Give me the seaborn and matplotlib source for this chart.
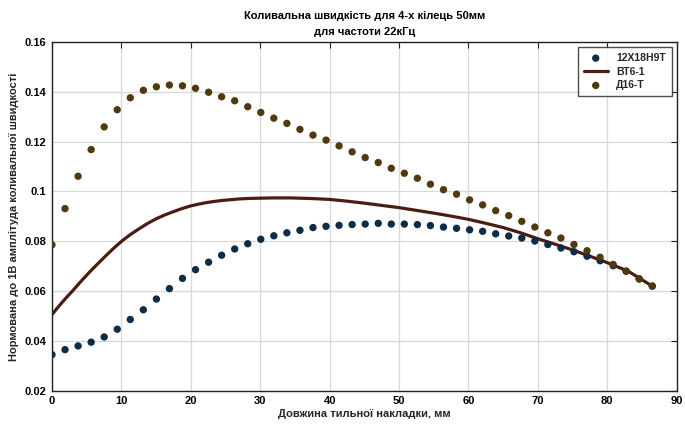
import numpy as np
import pandas as pd
import matplotlib
matplotlib.use("Agg")
import matplotlib.pyplot as plt
import seaborn as sns

# x positions of the sampled points (mm)
x_pts = [0.0, 1.88, 3.76, 5.64, 7.52, 9.40, 11.28, 13.16, 15.04, 16.92,
         18.80, 20.68, 22.56, 24.44, 26.32, 28.20, 30.08, 31.96, 33.84, 35.72,
         37.60, 39.48, 41.36, 43.24, 45.12, 47.00, 48.88, 50.76, 52.64, 54.52,
         56.40, 58.28, 60.16, 62.04, 63.92, 65.80, 67.68, 69.56, 71.44, 73.32,
         75.20, 77.08, 78.96, 80.84, 82.72, 84.60, 86.48]

# 12Х18Н9Т (dots)
steel = [0.0345, 0.0365, 0.0380, 0.0395, 0.0416, 0.0447, 0.0486, 0.0525, 0.0568, 0.0610,
         0.0651, 0.0686, 0.0716, 0.0744, 0.0769, 0.0790, 0.0808, 0.0822, 0.0834, 0.0844,
         0.0855, 0.0860, 0.0864, 0.0867, 0.0869, 0.0872, 0.0869, 0.0869, 0.0867, 0.0863,
         0.0857, 0.0852, 0.0846, 0.0840, 0.0830, 0.0821, 0.0813, 0.0801, 0.0787, 0.0773,
         0.0758, 0.0740, 0.0722, 0.0702, 0.0680, 0.0649, 0.0620]

# Д16-Т (dots)
dural = [0.0786, 0.0931, 0.1061, 0.1168, 0.1259, 0.1328, 0.1376, 0.1406, 0.1420, 0.1427,
         0.1424, 0.1414, 0.1398, 0.1380, 0.1364, 0.1340, 0.1317, 0.1294, 0.1273, 0.1249,
         0.1226, 0.1206, 0.1183, 0.1159, 0.1136, 0.1116, 0.1093, 0.1073, 0.1053, 0.1029,
         0.1007, 0.0989, 0.0966, 0.0946, 0.0923, 0.0903, 0.0880, 0.0857, 0.0834, 0.0813,
         0.0787, 0.0762, 0.0736, 0.0707, 0.0680, 0.0649, 0.0620]

# ВТ6-1 (line)
x_line = [0.0, 1.0, 2.0, 3.0, 4.2, 5.4, 6.6, 7.8, 9.0, 10.2, 11.4, 12.6, 13.8, 15.0, 16.2,
          17.4, 18.7, 20.0, 21.1, 22.2, 23.4, 24.6, 25.8, 27.0, 28.5, 30.0, 32.0, 34.3,
          37.0, 40.0, 42.5, 45.0, 47.5, 50.0, 52.5, 55.0, 57.5, 60.0, 62.5, 65.0, 67.5,
          70.0, 72.5, 75.0, 77.5, 80.0, 83.0, 86.48]
titanium = [0.0506, 0.0540, 0.0572, 0.0602, 0.0640, 0.0676, 0.0710, 0.0743, 0.0775, 0.0804,
            0.0829, 0.0851, 0.0872, 0.0890, 0.0905, 0.0918, 0.0931, 0.0942, 0.0949, 0.0955,
            0.0960, 0.0964, 0.0967, 0.0970, 0.0972, 0.0973, 0.0974, 0.0974, 0.0972, 0.0968,
            0.0961, 0.0953, 0.0944, 0.0935, 0.0924, 0.0913, 0.0901, 0.0888, 0.0872, 0.0855,
            0.0834, 0.0810, 0.0788, 0.0765, 0.0740, 0.0714, 0.0680, 0.0620]

labels = ["12Х18Н9Т", "ВТ6-1", "Д16-Т"]
x_ticks = [0, 10, 20, 30, 40, 50, 60, 70, 80, 90]
y_ticks = [0.02, 0.04, 0.06, 0.08, 0.1, 0.12, 0.14, 0.16]
y_ticklabels = ["0.02", "0.04", "0.06", "0.08", "0.1", "0.12", "0.14", "0.16"]

sns.set_theme(style="white")
plt.rcParams['font.family'] = ['Liberation Sans', 'DejaVu Sans']
plt.rcParams['font.weight'] = 'bold'

fig = plt.figure(figsize=(6.85, 4.28), dpi=100)
ax = fig.add_axes([0.0759, 0.087, 0.912, 0.815])

df_dots = pd.DataFrame({"x": x_pts, "steel": steel, "dural": dural})
df_line = pd.DataFrame({"x": x_line, "ti": titanium})

c_steel = "#0c2c48"
c_ti = "#4b1d12"
c_dural = "#4f3a0e"

sns.scatterplot(data=df_dots, x="x", y="steel", ax=ax, color=c_steel, s=28,
                edgecolor="none", label=labels[0], zorder=3)
sns.lineplot(data=df_line, x="x", y="ti", ax=ax, color=c_ti, lw=2.3,
             label=labels[1], zorder=2)
sns.scatterplot(data=df_dots, x="x", y="dural", ax=ax, color=c_dural, s=28,
                edgecolor="none", label=labels[2], zorder=3)

ax.set_xlim(0, 90)
ax.set_ylim(0.02, 0.16)
ax.set_xticks(x_ticks)
ax.set_yticks(y_ticks)
ax.set_yticklabels(y_ticklabels)
ax.grid(True, color="#d8d8d8", lw=0.9)
ax.set_axisbelow(True)
for s in ax.spines.values():
    s.set_color("#222222")
    s.set_linewidth(1.0)
ax.tick_params(direction="in", length=4, width=0.8, colors="#222222",
               labelsize=8, top=True, right=True, pad=4)
for lab in ax.get_xticklabels() + ax.get_yticklabels():
    lab.set_fontweight("bold")
    lab.set_color("black")

ax.set_xlabel("Довжина тильної накладки, мм", fontsize=8, fontweight="bold", labelpad=2)
ax.set_ylabel("Нормована до 1В амплітуда коливальної швидкості", fontsize=8,
              fontweight="bold", labelpad=4)
ax.set_title("Коливальна швидкість для 4-х кілець 50мм\nдля частоти 22кГц",
             fontsize=8, fontweight="bold", pad=5, linespacing=1.75, color="black")

leg = ax.legend(loc="upper right", fontsize=7.5, frameon=True, fancybox=False,
                edgecolor="#222222", borderpad=0.55, handlelength=2.3,
                labelspacing=0.35, borderaxespad=0.5)
leg.get_frame().set_linewidth(1.0)
for t in leg.get_texts():
    t.set_fontweight("bold")

fig.savefig("out.png", dpi=100)
